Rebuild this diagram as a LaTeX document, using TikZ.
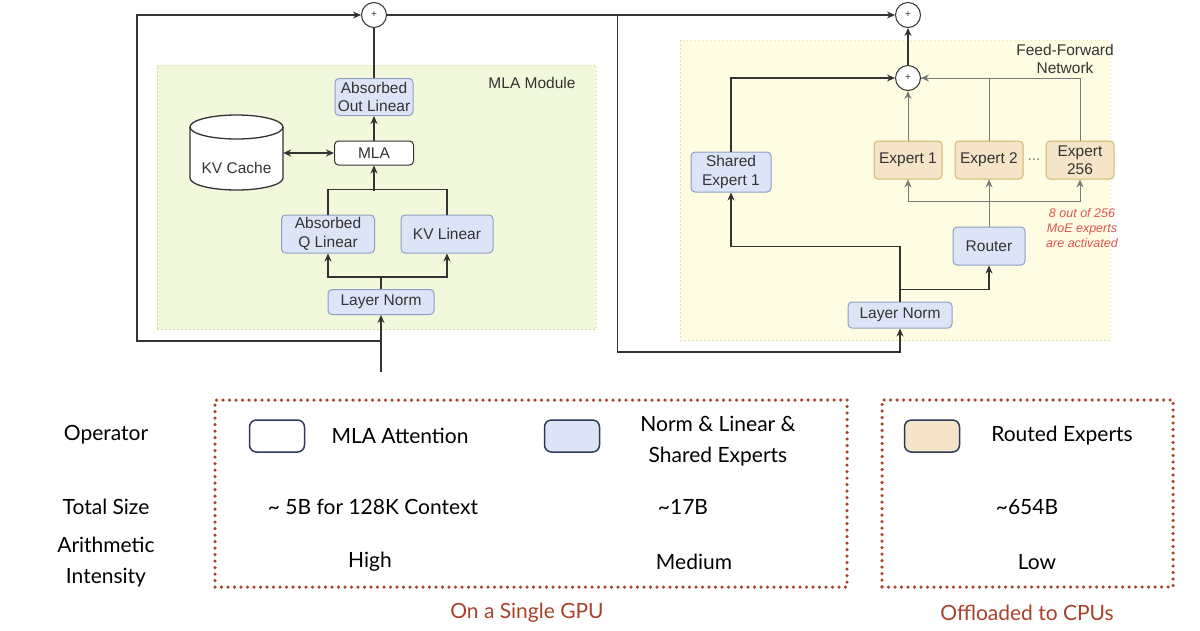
\documentclass[tikz,border=0pt]{standalone}
\usepackage{fontspec}
\setmainfont{Liberation Sans}
\newfontfamily\gillfont{Lato}
\usetikzlibrary{arrows.meta,shapes.geometric,positioning}
\definecolor{linegray}{HTML}{333333}
\definecolor{thingray}{HTML}{7A7A7A}
\definecolor{normblue}{HTML}{DCE4F7}
\definecolor{normedge}{HTML}{8E9FC4}
\definecolor{expfill}{HTML}{F5E4C8}
\definecolor{expedge}{HTML}{D4B66A}
\definecolor{mlafill}{HTML}{F1F8DC}
\definecolor{mlaedge}{HTML}{C9DB8E}
\definecolor{ffnfill}{HTML}{FEFDE3}
\definecolor{ffnedge}{HTML}{E3DFA6}
\definecolor{notered}{HTML}{E0554B}
\definecolor{brick}{HTML}{A8412A}
\definecolor{swedge}{HTML}{2E3A59}

\begin{document}
\begin{tikzpicture}[x=1pt,y=-1pt,font=\fontsize{15.5}{18.5}\selectfont,text=linegray,
 blk/.style={rectangle,rounded corners=4pt,draw=normedge,fill=normblue,line width=1pt,align=center,inner sep=1pt},
 expbox/.style={blk,draw=expedge,fill=expfill,minimum width=68pt,minimum height=38pt},
 whitebox/.style={blk,draw=linegray,fill=white},
 sumnode/.style={circle,draw=linegray,fill=white,line width=1pt,minimum size=25pt,inner sep=0pt,font=\fontsize{10}{10}\selectfont},
 flow/.style={-{Stealth[length=8pt,width=7pt]},draw=linegray,line width=1.3pt},
 wire/.style={draw=linegray,line width=1.3pt},
 tflow/.style={-{Stealth[length=8pt,width=7pt]},draw=thingray,line width=0.9pt},
 twire/.style={draw=thingray,line width=0.9pt},
 region/.style={rectangle,line width=0.8pt,dash pattern=on 1.5pt off 2.5pt,inner sep=0pt},
 frame/.style={rectangle,draw=brick,line width=3.5pt,dash pattern=on 0pt off 6.5pt,line cap=round,inner sep=0pt,minimum height=187pt},
 swatch/.style={rectangle,rounded corners=7pt,draw=swedge,line width=1.5pt,minimum width=55pt,minimum height=32pt},
 tab/.style={font=\gillfont\fontsize{21}{31}\selectfont,align=center,text=black},
 grouplab/.style={tab,text=brick}]
\useasboundingbox (0,0) rectangle (1200,630);
\node[region,draw=mlaedge,fill=mlafill,minimum width=439pt,minimum height=264pt] (mlamod) at (376.5,197) {};
\node[region,draw=ffnedge,fill=ffnfill,minimum width=430pt,minimum height=300pt] (ffn) at (895,190) {};
\node (mlalab) at (532,83) {MLA Module};
\node[align=center] (ffnlab) at (1065,59) {Feed-Forward\\Network};
\node[sumnode] (plusa) at (374,15) {+};
\node[blk,minimum width=78pt,minimum height=37pt] (outlin) at (374,97) {Absorbed\\Out Linear};
\node[whitebox,minimum width=79pt,minimum height=24pt] (mla) at (374,153) {MLA};
\node[inner sep=0pt,minimum width=93pt,minimum height=75pt] (kvc) at (236.5,152.5) {};
\draw[draw=linegray,fill=white,line width=1.3pt] (190,127) -- (190,178) arc[start angle=180,end angle=360,x radius=46.5pt,y radius=12pt] -- (283,127);
\draw[draw=linegray,fill=white,line width=1.3pt] (236.5,127) ellipse[x radius=46.5pt,y radius=12pt];
\node (kvtxt) at (236.5,168) {KV Cache};
\node[blk,minimum width=93pt,minimum height=38pt] (qlin) at (328,234) {Absorbed\\Q Linear};
\node[blk,minimum width=92pt,minimum height=38pt] (kvlin) at (447,234) {KV Linear};
\node[blk,minimum width=106pt,minimum height=25pt] (lna) at (381,302) {Layer Norm};
\coordinate (ina) at (381,372);
\node[sumnode] (plusb) at (908,15) {+};
\node[sumnode] (plusc) at (908,78) {+};
\node[blk,minimum width=80pt,minimum height=40pt] (shex) at (731,172) {Shared\\Expert 1};
\node[expbox] (exa) at (908,160) {Expert 1};
\node[expbox] (exb) at (989,160) {Expert 2};
\node[expbox] (exc) at (1080,160) {Expert\\256};
\node[text=thingray] (dots) at (1034,160) {...};
\node[blk,minimum width=72pt,minimum height=38pt] (router) at (989,246) {Router};
\node[text=notered,align=center,font=\itshape\fontsize{12.5}{15}\selectfont] (note) at (1082,228) {8 out of 256\\MoE experts\\are activated};
\node[blk,minimum width=104pt,minimum height=26pt] (lnb) at (900,315) {Layer Norm};
\draw[flow] (ina) -- (lna.south);
\draw[flow] (lna.south) ++(0,26) -- ++(-244,0) |- (plusa.west);
\draw[flow] (lna.north) -- ++(0,-12) -| (qlin.south);
\draw[flow] (lna.north) ++(0,-12) -| (kvlin.south);
\draw[wire] (qlin.north) -- ++(0,-25) -| (kvlin.north);
\draw[flow] (mla.south) ++(0,25) -- (mla.south);
\draw[{Stealth[length=8pt,width=7pt]}-{Stealth[length=8pt,width=7pt]},draw=linegray,line width=1.3pt] (kvc.east |- mla.west) -- (mla.west);
\draw[flow] (mla) -- (outlin);
\draw[wire] (outlin) -- (plusa);
\draw[flow] (plusa) -- (plusb);
\draw[flow] (plusa.east) ++(230.5,0) -- ++(0,337) -| (lnb.south);
\draw[flow] (lnb.north) -- ++(0,-55) -| (shex.south);
\draw[flow] (lnb.north) ++(0,-12) -| (router.south);
\draw[flow] (shex.north) |- (plusc.west);
\draw[twire] (router.north) -- ++(0,-25);
\draw[tflow] (router.north) ++(0,-25) -| (exa.south);
\draw[tflow] (router.north) ++(0,-25) -| (exc.south);
\draw[tflow] (router.north) ++(0,-25) -- (exb.south);
\draw[tflow] (exa) -- (plusc);
\draw[twire] (exc.north) |- (plusc.east);
\draw[tflow] (exb.north) |- (plusc.east);
\draw[flow] (plusc) -- (plusb);
\node[frame,minimum width=632pt] (gpu) at (531,493.5) {};
\node[frame,minimum width=291pt] (cpu) at (1027.5,493.5) {};
\node[tab] (oplab) at (106,435) {Operator};
\node[tab] (sizelab) at (106,507) {Total Size};
\node[tab] (intlab) at (106,562) {Arithmetic\\Intensity};
\node[swatch,fill=white] (swmla) at (277,436) {};
\node[tab] (mlatxt) at (400,436) {MLA Attention};
\node[swatch,fill=normblue] (swnorm) at (572,436) {};
\node[tab] (normtxt) at (718,441) {Norm \& Linear \&\\Shared Experts};
\node[swatch,fill=expfill] (swexp) at (932,436) {};
\node[tab] (exptxt) at (1062,436) {Routed Experts};
\node[tab] (mlasize) at (373,507) {\textasciitilde{} 5B for 128K Context};
\node[tab] (normsize) at (683,507) {\textasciitilde 17B};
\node[tab] (expsize) at (1027,507) {\textasciitilde 654B};
\node[tab] (mlaint) at (370,562) {High};
\node[tab] (normint) at (694,562) {Medium};
\node[tab] (expint) at (1037,562) {Low};
\node[grouplab] (gpulab) at (527,613) {On a Single GPU};
\node[grouplab] (cpulab) at (1027,613) {Offloaded to CPUs};
\end{tikzpicture}
\end{document}
